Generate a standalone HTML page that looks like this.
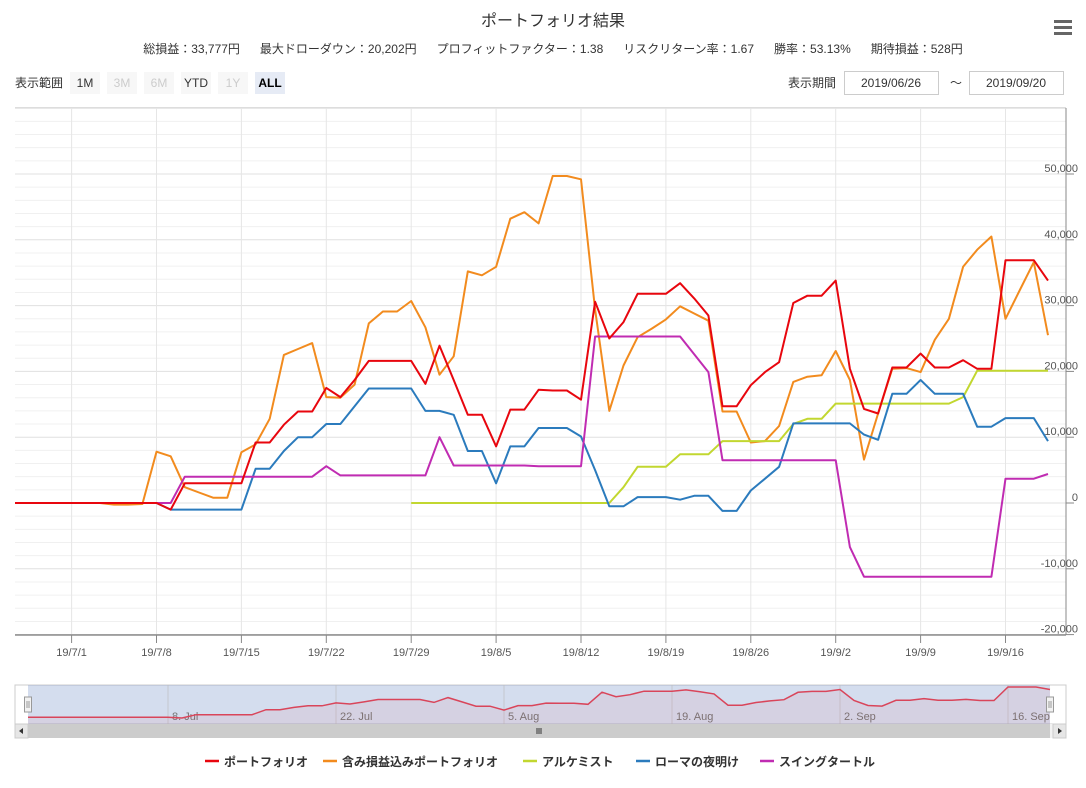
<!DOCTYPE html>
<html><head><meta charset="utf-8">
<style>
body{margin:0;background:#fff;font-family:"Liberation Sans","Noto Sans CJK JP",sans-serif;}
#wrap{position:relative;width:1086px;height:788px;overflow:hidden;}
svg text{font-family:"Liberation Sans","Noto Sans CJK JP",sans-serif;}
</style></head>
<body>
<div id="wrap">
<svg id="chart" width="1086" height="788" xmlns="http://www.w3.org/2000/svg">
  <text x="553" y="26" text-anchor="middle" font-size="16" fill="#333">ポートフォリオ結果</text>
  <text x="553" y="53" text-anchor="middle" font-size="12" fill="#333" xml:space="preserve">総損益：33,777円      最大ドローダウン：20,202円      プロフィットファクター：1.38      リスクリターン率：1.67      勝率：53.13%      期待損益：528円</text>
  <g>
    <rect x="1054" y="20" width="18" height="3" fill="#666"/>
    <rect x="1054" y="26" width="18" height="3" fill="#666"/>
    <rect x="1054" y="32" width="18" height="3" fill="#666"/>
  </g>
  <text x="15" y="87" font-size="12" fill="#333">表示範囲</text>
  <g><rect x="70" y="72" width="30" height="22" fill="#f7f7f7"/><text x="85" y="87" text-anchor="middle" font-size="12" fill="#333">1M</text></g>
  <g><rect x="107" y="72" width="30" height="22" fill="#f7f7f7"/><text x="122" y="87" text-anchor="middle" font-size="12" fill="#ccc">3M</text></g>
  <g><rect x="144" y="72" width="30" height="22" fill="#f7f7f7"/><text x="159" y="87" text-anchor="middle" font-size="12" fill="#ccc">6M</text></g>
  <g><rect x="181" y="72" width="30" height="22" fill="#f7f7f7"/><text x="196" y="87" text-anchor="middle" font-size="12" fill="#333">YTD</text></g>
  <g><rect x="218" y="72" width="30" height="22" fill="#f7f7f7"/><text x="233" y="87" text-anchor="middle" font-size="12" fill="#ccc">1Y</text></g>
  <g><rect x="255" y="72" width="30" height="22" fill="#e6ebf5"/><text x="270" y="87" text-anchor="middle" font-size="12" font-weight="bold" fill="#000">ALL</text></g>
  <text x="788" y="87" font-size="12" fill="#333">表示期間</text>
  <g><rect x="844.5" y="71.5" width="94" height="23" fill="#fff" stroke="#ccc"/><text x="891" y="87" text-anchor="middle" font-size="12" fill="#333">2019/06/26</text></g>
  <text x="956" y="87" text-anchor="middle" font-size="12" fill="#333">～</text>
  <g><rect x="969.5" y="71.5" width="94" height="23" fill="#fff" stroke="#ccc"/><text x="1016" y="87" text-anchor="middle" font-size="12" fill="#333">2019/09/20</text></g>
  <g id="grid"></g>
  <g id="series"></g>
  <g id="axes"></g>
  <g id="nav"></g>
  <g id="legend"></g>
</svg>
</div>
<script>
var xTickLabels = ["19/7/1","19/7/8","19/7/15","19/7/22","19/7/29","19/8/5","19/8/12","19/8/19","19/8/26","19/9/2","19/9/9","19/9/16"];
var xTickIndex = [4,10,16,22,28,34,40,46,52,58,64,70];
var yTicks = [-20000,-10000,0,10000,20000,30000,40000,50000];
var yTickLabels = ["-20,000","-10,000","0","10,000","20,000","30,000","40,000","50,000"];
var navLabels = ["8. Jul","22. Jul","5. Aug","19. Aug","2. Sep","16. Sep"];
var navLabelIndex = [10,22,34,46,58,70];
var seriesNames = ["ポートフォリオ","含み損益込みポートフォリオ","アルケミスト","ローマの夜明け","スイングタートル"];
var portfolio = [0,0,0,0,0,0,0,0,0,0,0,-1000,3000,3000,3000,3000,3000,9200,9200,11900,13900,13900,17500,16100,18700,21600,21600,21600,21600,18100,23900,18700,13400,13400,8600,14200,14200,17200,17100,17100,15700,30600,25000,27500,31800,31800,31800,33400,31100,28500,14700,14700,17900,19900,21400,30400,31500,31500,33800,20400,14300,13600,20600,20600,22700,20600,20600,21700,20400,20400,36900,36900,36900,33800];
var unrealized = [0,0,0,0,0,0,0,-250,-250,-150,7800,7100,2400,1600,800,800,7700,8900,12800,22500,23400,24300,16100,16000,18000,27300,29100,29100,30700,26700,19500,22300,35200,34600,35900,43200,44200,42500,49700,49700,49200,29400,14000,20900,25200,26500,27900,29900,28800,27700,13900,13900,9200,9400,11700,18400,19200,19400,23100,18700,6600,13600,20400,20500,19900,24800,28000,35900,38500,40500,28000,32300,36600,25500];
var alchemist = [null,null,null,null,null,null,null,null,null,null,null,null,null,null,null,null,null,null,null,null,null,null,null,null,null,null,null,null,0,0,0,0,0,0,0,0,0,0,0,0,0,0,0,2400,5500,5500,5500,7400,7400,7400,9400,9400,9400,9400,9400,12000,12800,12800,15100,15100,15100,15100,15100,15100,15100,15100,15100,16100,20100,20100,20100,20100,20100,20100];
var roma = [0,0,0,0,0,0,0,0,0,0,0,-1000,-1000,-1000,-1000,-1000,-1000,5200,5200,7900,10000,10000,12000,12000,14700,17400,17400,17400,17400,14000,14000,13400,7900,7900,3000,8600,8600,11400,11400,11400,10100,5000,-500,-500,900,900,900,500,1100,1100,-1200,-1200,1900,3700,5500,12100,12100,12100,12100,12100,10400,9600,16600,16600,18700,16600,16600,16600,11600,11600,12900,12900,12900,9400];
var swing = [0,0,0,0,0,0,0,0,0,0,0,0,4000,4000,4000,4000,4000,4000,4000,4000,4000,4000,5600,4200,4200,4200,4200,4200,4200,4200,10000,5700,5700,5700,5700,5700,5700,5600,5600,5600,5600,25300,25300,25300,25300,25300,25300,25300,22600,19900,6500,6500,6500,6500,6500,6500,6500,6500,6500,-6700,-11200,-11200,-11200,-11200,-11200,-11200,-11200,-11200,-11200,-11200,3700,3700,3700,4400];

var colors = ["#e8060e","#f28b1e","#c2d730","#2b7bbd","#c02cb2"];
var NS = "http://www.w3.org/2000/svg";
function mk(tag, attrs, parent){var e=document.createElementNS(NS,tag);for(var k in attrs)e.setAttribute(k,attrs[k]);parent.appendChild(e);return e;}
var PL=15, PR=1066, PT=108, PB=635, STEP=14.15;
function xs(i){return PL + i*STEP;}
function ys(v){return 503 - v*0.00658;}

var grid=document.getElementById('grid');
for(var v=-20000; v<=60000; v+=2000){
  var y=ys(v);
  var ln=mk('line',{x1:PL,x2:PR,y1:y,y2:y,stroke:(v%10000===0)?'#e0e0e0':'#f0f0f0','stroke-width':1},grid);
  
  
}
var topl=mk('line',{x1:PL,x2:PR,y1:107.5,y2:107.5,stroke:'#ddd'},grid);


xTickIndex.forEach(function(ix){
  var x=xs(ix);
  var g=mk('line',{x1:x,x2:x,y1:PT,y2:PB,stroke:'#e6e6e6'},grid);
  
  
});

var sg=document.getElementById('series');
var allSeries=[portfolio,unrealized,alchemist,roma,swing];
var sNames=['series-portfolio','series-unrealized-portfolio','series-alchemist','series-roma','series-swing-turtle'];
[1,2,3,4,0].forEach(function(k){
  var d='',pen=false;
  allSeries[k].forEach(function(v,i){
    if(v===null){pen=false;return;}
    d+=(pen?'L':'M')+xs(i).toFixed(1)+','+ys(v).toFixed(1);pen=true;
  });
  var p=mk('path',{d:d,fill:'none',stroke:colors[k],'stroke-width':2,'stroke-linejoin':'round'},sg);
  
  
});

var ax=document.getElementById('axes');
var xl=mk('line',{x1:PL,x2:PR,y1:PB,y2:PB,stroke:'#555'},ax);


var yl=mk('line',{x1:PR,x2:PR,y1:PT,y2:PB,stroke:'#888'},ax);


xTickIndex.forEach(function(ix,j){
  var x=xs(ix);
  var t=mk('line',{x1:x,x2:x,y1:PB,y2:PB+8,stroke:'#888'},ax);
  
  
  var tx=mk('text',{x:x,y:PB+21,'text-anchor':'middle','font-size':11,fill:'#555'},ax);
  tx.textContent=xTickLabels[j];
  
  
});
yTicks.forEach(function(v,j){
  var y=ys(v);
  var t=mk('line',{x1:PR,x2:PR+8,y1:y,y2:y,stroke:'#888'},ax);
  
  
  var tx=mk('text',{x:1078,y:y-2,'text-anchor':'end','font-size':11,fill:'#555'},ax);
  tx.textContent=yTickLabels[j];
  
  
});

// navigator
var nav=document.getElementById('nav');
var NL=28,NR=1050,NT=685,NB=724;
var bg=mk('rect',{x:15,y:NT,width:1051,height:NB-NT,fill:'#fff',stroke:'#ccc'},nav);


var mask=mk('rect',{x:NL,y:NT,width:NR-NL,height:NB-NT,fill:'rgba(102,133,194,0.28)'},nav);


var n=portfolio.length, mn=Math.min.apply(null,portfolio), mx=Math.max.apply(null,portfolio);
function nx(i){return NL + i*(NR-NL)/(n-1);}
function ny(v){return 718 - (v-mn)/(mx-mn)*31;}
navLabelIndex.forEach(function(ix,j){
  var x=nx(ix);
  var g=mk('line',{x1:x,x2:x,y1:NT,y2:NB,stroke:'#bbb','stroke-width':0.6},nav);
  
  
  var t=mk('text',{x:x+4,y:NB-4,'font-size':11,fill:'#777'},nav);
  t.textContent=navLabels[j];
  
  
});
var nd='';
portfolio.forEach(function(v,i){nd+=(i?'L':'M')+nx(i).toFixed(1)+','+ny(v).toFixed(1);});
var na=mk('path',{d:nd+'L'+NR+','+NB+'L'+NL+','+NB+'Z',fill:'rgba(232,6,14,0.05)',stroke:'none'},nav);


var nl=mk('path',{d:nd,fill:'none',stroke:'#d9455a','stroke-width':1.5},nav);


[NL,NR].forEach(function(x,j){
  var h=mk('rect',{x:x-3.5,y:697,width:7,height:15,fill:'#f2f2f2',stroke:'#999'},nav);
  
  
  mk('line',{x1:x-1,x2:x-1,y1:701,y2:708,stroke:'#999'},nav);
  mk('line',{x1:x+1,x2:x+1,y1:701,y2:708,stroke:'#999'},nav);
});
var st=mk('rect',{x:15,y:724,width:1051,height:14,fill:'#f2f2f2'},nav);


var sb=mk('rect',{x:NL,y:724,width:NR-NL,height:14,fill:'#ccc'},nav);


var sl=mk('rect',{x:15,y:724,width:13,height:14,fill:'#e6e6e6',stroke:'#ccc'},nav);


var sr=mk('rect',{x:1053,y:724,width:13,height:14,fill:'#e6e6e6',stroke:'#ccc'},nav);


mk('path',{d:'M23,728L19,731L23,734Z',fill:'#333'},nav);
mk('path',{d:'M1058,728L1062,731L1058,734Z',fill:'#333'},nav);
[-2,0,2].forEach(function(o){mk('line',{x1:539+o,x2:539+o,y1:728,y2:734,stroke:'#333'},nav);});

// legend
var lg=document.getElementById('legend');
var legX=[205,323,523,636,760];
seriesNames.forEach(function(name,k){
  var g=mk('g',{},lg);
  
  
  mk('line',{x1:legX[k],x2:legX[k]+14,y1:761,y2:761,stroke:colors[k],'stroke-width':2.5},g);
  var t=mk('text',{x:legX[k]+19,y:766,'font-size':12,'font-weight':'bold',fill:'#333'},g);
  t.textContent=name;
});
</script>
</body></html>
